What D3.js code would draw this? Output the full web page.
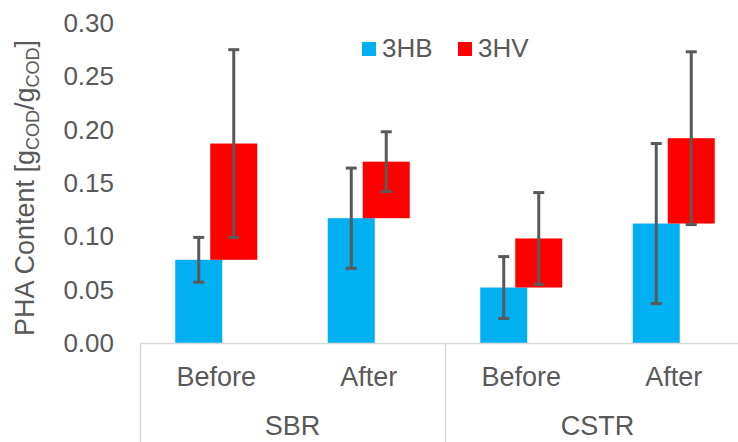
<!DOCTYPE html>
<html>
<head>
<meta charset="utf-8">
<script src="https://cdn.jsdelivr.net/npm/d3@7"></script>
<style>
  html, body { margin: 0; padding: 0; background: #fff; }
  svg { display: block; }
  text { font-family: "Liberation Sans", Arial, Helvetica, sans-serif; fill: #595959; }
</style>
</head>
<body>
<svg id="chart" width="738" height="442"></svg>
<script>
// ---- data ----
const categories = ["Before", "After", "Before", "After"];
const groups = ["SBR", "SBR", "CSTR", "CSTR"];
const seriesNames = ["3HB", "3HV"];
const hb = [0.078, 0.117, 0.052, 0.112];
const hv = [0.109, 0.053, 0.046, 0.080];
const hbErr = [0.021, 0.047, 0.029, 0.075];
const hvErr = [0.088, 0.028, 0.043, 0.081];
const yTicks = [0, 0.05, 0.10, 0.15, 0.20, 0.25, 0.30];
const groupNames = ["SBR", "CSTR"];

const colors = { "3HB": "#00b0f0", "3HV": "#ff0000" };
const gray = "#595959";
const axisGray = "#d9d9d9";

const svg = d3.select("#chart");
const idx = categories.map((_, i) => i);

const x = d3.scaleBand().domain(idx).range([140, 750]).padding(0);
const sub = d3.scalePoint().domain(seriesNames).range([-17.5, 17.5]);
const y = d3.scaleLinear().domain([0, 0.30]).range([343, 23]);
const barW = 47;

const rows = idx.map(i => ({ i, hb: hb[i], hv: hv[i], hbE: hbErr[i], hvE: hvErr[i] }));

svg.append("g").selectAll("rect").data(rows).join("rect")
  .attr("x", d => x(d.i) + x.bandwidth() / 2 + sub("3HB") - barW / 2)
  .attr("width", barW)
  .attr("y", d => y(d.hb))
  .attr("height", d => y(0) - y(d.hb))
  .attr("fill", colors["3HB"]);

svg.append("g").selectAll("rect").data(rows).join("rect")
  .attr("x", d => x(d.i) + x.bandwidth() / 2 + sub("3HV") - barW / 2)
  .attr("width", barW)
  .attr("y", d => y(d.hb + d.hv))
  .attr("height", d => y(d.hb) - y(d.hb + d.hv))
  .attr("fill", colors["3HV"]);

function errBars(cxFn, valFn, errFn) {
  const g = svg.append("g").attr("stroke", gray).attr("stroke-width", 3);
  rows.forEach(d => {
    const cx = cxFn(d), v = valFn(d), e = errFn(d);
    g.append("line").attr("x1", cx).attr("x2", cx).attr("y1", y(v + e)).attr("y2", y(v - e));
    g.append("line").attr("x1", cx - 5.5).attr("x2", cx + 5.5).attr("y1", y(v + e)).attr("y2", y(v + e));
    g.append("line").attr("x1", cx - 5.5).attr("x2", cx + 5.5).attr("y1", y(v - e)).attr("y2", y(v - e));
  });
}
errBars(d => x(d.i) + x.bandwidth() / 2 + sub("3HB"), d => d.hb, d => d.hbE);
errBars(d => x(d.i) + x.bandwidth() / 2 + sub("3HV"), d => d.hb + d.hv, d => d.hvE);

svg.append("line").attr("x1", x.range()[0]).attr("x2", 738)
  .attr("y1", y(0) + 0.5).attr("y2", y(0) + 0.5)
  .attr("stroke", axisGray).attr("stroke-width", 1.5);
[0, 2].forEach(i => {
  svg.append("line").attr("x1", x(i) + 0.5).attr("x2", x(i) + 0.5)
    .attr("y1", y(0)).attr("y2", 442)
    .attr("stroke", axisGray).attr("stroke-width", 1.5);
});

svg.append("g").selectAll("text").data(idx).join("text")
  .attr("x", i => x(i) + x.bandwidth() / 2)
  .attr("y", 386)
  .attr("text-anchor", "middle")
  .attr("font-size", 27)
  .text(i => categories[i]);

groupNames.forEach(gname => {
  const members = idx.filter(i => groups[i] === gname);
  const x0 = x(members[0]);
  const x1 = x(members[members.length - 1]) + x.bandwidth();
  svg.append("text")
    .attr("x", (x0 + x1) / 2)
    .attr("y", 435)
    .attr("text-anchor", "middle")
    .attr("font-size", 27)
    .text(gname);
});

svg.append("g").selectAll("text").data(yTicks).join("text")
  .attr("x", 114)
  .attr("y", d => y(d))
  .attr("dy", "0.35em")
  .attr("text-anchor", "end")
  .attr("font-size", 26)
  .text(d => d3.format(".2f")(d));

const yt = svg.append("text")
  .attr("transform", "translate(34,188) rotate(-90)")
  .attr("text-anchor", "middle")
  .attr("font-size", 27);
yt.append("tspan").text("PHA Content [g");
yt.append("tspan").attr("font-size", 18).attr("dy", 5).text("COD");
yt.append("tspan").attr("dy", -5).text("/g");
yt.append("tspan").attr("font-size", 18).attr("dy", 5).text("COD");
yt.append("tspan").attr("dy", -5).text("]");

const legendX = { "3HB": 362, "3HV": 458 };
seriesNames.forEach(s => {
  svg.append("rect").attr("x", legendX[s]).attr("y", 42).attr("width", 14).attr("height", 14)
    .attr("fill", colors[s]);
  svg.append("text").attr("x", legendX[s] + 20).attr("y", 57)
    .attr("font-size", 26).text(s);
});
</script>
</body>
</html>
